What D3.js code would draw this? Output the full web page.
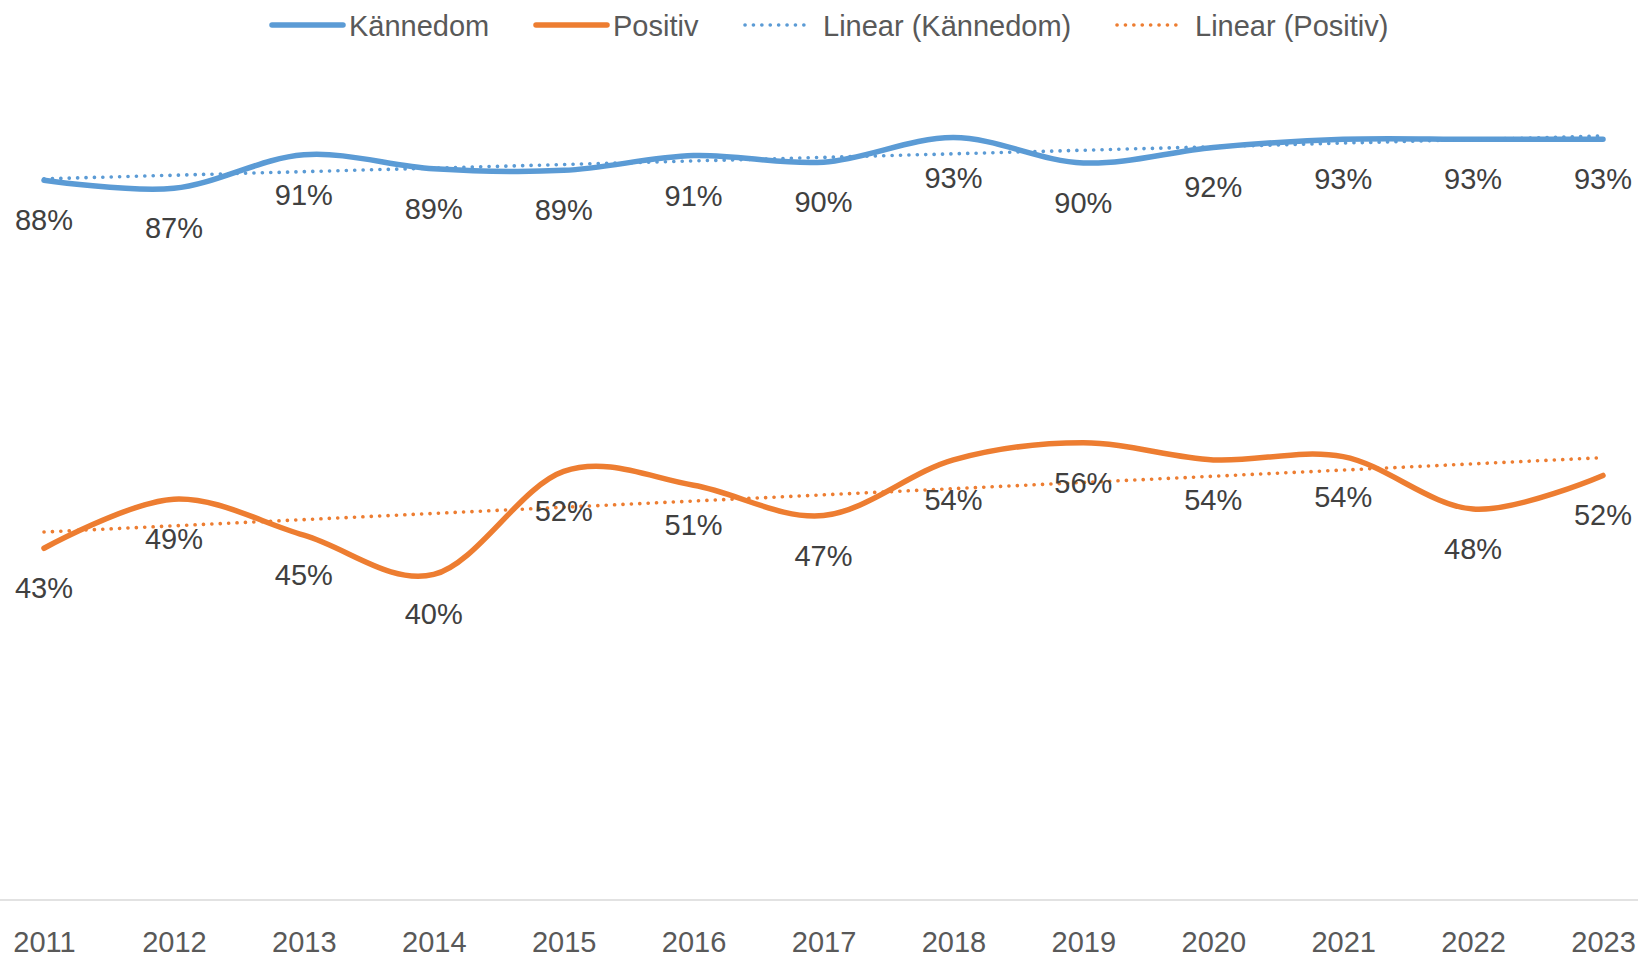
<!DOCTYPE html>
<html>
<head>
<meta charset="utf-8">
<script src="https://cdn.jsdelivr.net/npm/d3@7"></script>
<style>
  html, body { margin: 0; padding: 0; background: #ffffff; }
  svg { display: block; }
  text { font-family: "Liberation Sans", Arial, sans-serif; }
</style>
</head>
<body>
<svg id="chart" width="1638" height="959"></svg>
<script>
// ---- data ----
const years = ["2011","2012","2013","2014","2015","2016","2017","2018","2019","2020","2021","2022","2023"];
const kannedom = [0.880, 0.870, 0.911, 0.894, 0.892, 0.910, 0.902, 0.932, 0.901, 0.920, 0.930, 0.930, 0.930];
const positiv  = [0.430, 0.490, 0.446, 0.398, 0.524, 0.507, 0.470, 0.538, 0.559, 0.538, 0.542, 0.478, 0.519];
const seriesNames = ["Kännedom", "Positiv", "Linear (Kännedom)", "Linear (Positiv)"];
const colors = ["#5B9BD5", "#ED7D31"];

// ---- layout ----
const W = 1638, H = 959;
const svg = d3.select("#chart");

const x = d3.scalePoint().domain(years).range([44, 1603]);
const y = d3.scaleLinear().domain([0, 1]).range([900, 82]);

// axis line
svg.append("line")
  .attr("x1", 0).attr("x2", W)
  .attr("y1", y(0)).attr("y2", y(0))
  .attr("stroke", "#D9D9D9").attr("stroke-width", 1.5);

// x tick labels
const xAxis = d3.axisBottom(x).tickSize(0).tickPadding(0);
const gx = svg.append("g").attr("transform", `translate(0,${y(0)})`).call(xAxis);
gx.select(".domain").remove();
gx.selectAll("text")
  .attr("y", 52).attr("dy", null)
  .attr("fill", "#595959")
  .style("font-size", "29px")
  .style("font-family", "'Liberation Sans', Arial, sans-serif");

// linear regression trendline
function trend(vals) {
  const n = vals.length;
  const xs = d3.range(n);
  const mx = d3.mean(xs), my = d3.mean(vals);
  let sxy = 0, sxx = 0;
  xs.forEach((xi, i) => { sxy += (xi - mx) * (vals[i] - my); sxx += (xi - mx) * (xi - mx); });
  const b = sxy / sxx, a = my - b * mx;
  return xs.map(xi => a + b * xi);
}

const smooth = d3.line()
  .x((d, i) => x(years[i]))
  .y(d => y(d))
  .curve(d3.curveCardinal.tension(0));
const straight = d3.line()
  .x((d, i) => x(years[i]))
  .y(d => y(d));

const data = [kannedom, positiv];

data.forEach((vals, k) => {
  svg.append("path")
    .attr("d", smooth(vals))
    .attr("fill", "none")
    .attr("stroke", colors[k])
    .attr("stroke-width", 5.5)
    .attr("stroke-linecap", "round")
    .attr("stroke-linejoin", "round");
});
data.forEach((vals, k) => {
  svg.append("path")
    .attr("d", straight(trend(vals)))
    .attr("fill", "none")
    .attr("stroke", colors[k])
    .attr("stroke-width", 3.6)
    .attr("stroke-linecap", "round")
    .attr("stroke-dasharray", "0.1 8.3");
});

// data labels
data.forEach((vals, k) => {
  svg.append("g").selectAll("text")
    .data(vals)
    .join("text")
    .attr("x", (d, i) => x(years[i]))
    .attr("y", d => y(d) + 50)
    .attr("text-anchor", "middle")
    .attr("fill", "#404040")
    .style("font-size", "29px")
    .text(d => Math.round(d * 100) + "%");
});

// legend
const legendX = [272, 536, 745, 1117];
const legendY = 25;
seriesNames.forEach((name, i) => {
  const g = svg.append("g").attr("transform", `translate(${legendX[i]},${legendY})`);
  const dotted = i >= 2;
  g.append("line")
    .attr("x1", 0).attr("x2", dotted ? 64 : 71)
    .attr("y1", 0).attr("y2", 0)
    .attr("stroke", colors[i % 2])
    .attr("stroke-width", dotted ? 3.6 : 5.5)
    .attr("stroke-linecap", "round")
    .attr("stroke-dasharray", dotted ? "0.1 8.3" : null);
  g.append("text")
    .attr("x", dotted ? 78 : 77)
    .attr("y", 10.5)
    .attr("fill", "#595959")
    .style("font-size", "29px")
    .text(name);
});
</script>
</body>
</html>
